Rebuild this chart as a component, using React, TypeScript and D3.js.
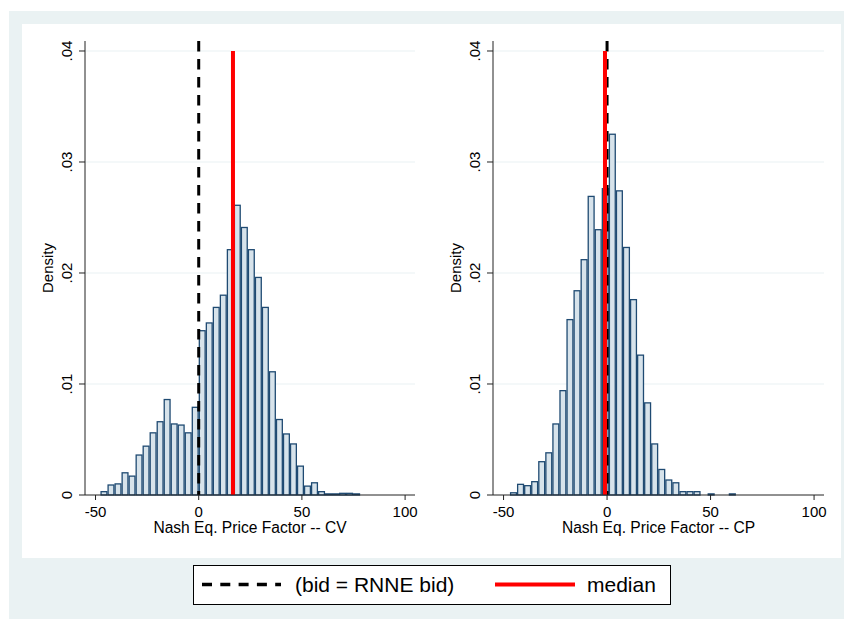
import React from "react";
import * as d3 from "d3";

// Histogram bins (lower edge of first bin, bin width) and densities
const cvBinStart = -47.6;
const cvBinWidth = 3.4;
const cvDensity = [
  0.0003, 0.0009, 0.001, 0.002, 0.0017, 0.0036, 0.0044, 0.0056, 0.0066, 0.0086,
  0.0064, 0.0063, 0.0056, 0.0079, 0.0148, 0.0155, 0.0169, 0.018, 0.0221, 0.0261,
  0.0241, 0.0221, 0.0196, 0.0169, 0.0111, 0.0068, 0.0055, 0.0046, 0.0026, 0.0008,
  0.0011, 0.0003, 0.0001, 0.0001, 0.00015, 0.00015, 0.0001,
];
const cpBinStart = -46.9;
const cpBinWidth = 3.41;
const cpDensity = [
  0.0002, 0.00096, 0.00084, 0.0012, 0.003, 0.0038, 0.0064, 0.0094, 0.0158, 0.0184,
  0.0212, 0.0269, 0.0239, 0.0276, 0.0325, 0.0274, 0.0223, 0.0176, 0.0126, 0.0083,
  0.0046, 0.0023, 0.00135, 0.0011, 0.0003, 0.0003, 0.0003, 0, 0.0001, 0, 0, 0.0001,
];
const cvMedian = 16.6;
const cpMedian = -1.0;
const rnneBid = 0;
const medianTop = 0.04;

const xTicks = [-50, 0, 50, 100];
const xTickLabels = ["-50", "0", "50", "100"];
const yTicks = [0, 0.01, 0.02, 0.03, 0.04];
const yTickLabels = ["0", ".01", ".02", ".03", ".04"];
const xTitles = ["Nash Eq. Price Factor -- CV", "Nash Eq. Price Factor -- CP"];
const yTitle = "Density";
const legendLabels = ["(bid = RNNE bid)", "median"];

const FONT = "'Liberation Sans', Arial, Helvetica, sans-serif";
const BG = "#eaf2f3";
const BAR_FILL = "#d7e3eb";
const BAR_STROKE = "#1f4a72";

type PanelProps = {
  x0: number;
  x1: number;
  binStart: number;
  binWidth: number;
  density: number[];
  median: number;
  title: string;
};

function Panel({ x0, x1, binStart, binWidth, density, median, title }: PanelProps) {
  const x = d3.scaleLinear().domain([-55.1, 104.8]).range([x0, x1]);
  const y = d3.scaleLinear().domain([0, 0.0409]).range([495, 41]);
  const [yBot, yTop] = y.range();
  const bins = density.map((d, i) => ({
    lo: binStart + i * binWidth,
    hi: binStart + (i + 1) * binWidth,
    d,
  }));
  return (
    <g>
      {yTicks.slice(1).map((t) => (
        <line key={"g" + t} x1={x0} x2={x1} y1={y(t)} y2={y(t)} stroke={BG} strokeWidth={1.2} />
      ))}
      {bins.map((b, i) =>
        b.d > 0 ? (
          <rect
            key={i}
            x={x(b.lo) + 0.6}
            y={y(b.d)}
            width={x(b.hi) - x(b.lo) - 1.2}
            height={yBot - y(b.d)}
            fill={BAR_FILL}
            stroke={BAR_STROKE}
            strokeWidth={1.3}
          />
        ) : null
      )}
      <line
        x1={x(rnneBid)}
        x2={x(rnneBid)}
        y1={yTop}
        y2={yBot}
        stroke="#000"
        strokeWidth={3}
        strokeDasharray="10.5,7.5"
      />
      <line x1={x(median)} x2={x(median)} y1={y(medianTop)} y2={yBot} stroke="#ff0000" strokeWidth={4} />
      {/* y axis */}
      <line x1={x0} x2={x0} y1={yTop} y2={yBot} stroke="#222" strokeWidth={1} />
      {yTicks.map((t, i) => (
        <g key={"yt" + t}>
          <line x1={x0 - 6} x2={x0} y1={y(t)} y2={y(t)} stroke="#222" strokeWidth={1} />
          <text
            transform={`translate(${x0 - 13},${y(t)}) rotate(-90)`}
            textAnchor="middle"
            fontFamily={FONT}
            fontSize={15}
            fill="#000"
          >
            {yTickLabels[i]}
          </text>
        </g>
      ))}
      <text
        transform={`translate(${x0 - 32},${(yTop + yBot) / 2}) rotate(-90)`}
        textAnchor="middle"
        fontFamily={FONT}
        fontSize={15}
        fill="#000"
      >
        {yTitle}
      </text>
      {/* x axis */}
      <line x1={x0} x2={x1} y1={yBot} y2={yBot} stroke="#222" strokeWidth={1} />
      {xTicks.map((t, i) => (
        <g key={"xt" + t}>
          <line x1={x(t)} x2={x(t)} y1={yBot} y2={yBot + 5} stroke="#222" strokeWidth={1} />
          <text x={x(t)} y={yBot + 22} textAnchor="middle" fontFamily={FONT} fontSize={15} fill="#000">
            {xTickLabels[i]}
          </text>
        </g>
      ))}
      <text x={(x0 + x1) / 2} y={yBot + 38} textAnchor="middle" fontFamily={FONT} fontSize={15.6} fill="#000">
        {title}
      </text>
    </g>
  );
}

export default function App() {
  return (
    <div style={{ position: "absolute", left: 0, top: 0 }}>
      <svg width={844} height={619} style={{ display: "block" }}>
        <rect x={0} y={0} width={844} height={619} fill="#fff" />
        <rect x={9} y={11} width={835} height={608} fill={BG} />
        <rect x={22} y={24} width={819} height={534} fill="#fff" />
        <Panel
          x0={85}
          x1={415}
          binStart={cvBinStart}
          binWidth={cvBinWidth}
          density={cvDensity}
          median={cvMedian}
          title={xTitles[0]}
        />
        <Panel
          x0={493}
          x1={824}
          binStart={cpBinStart}
          binWidth={cpBinWidth}
          density={cpDensity}
          median={cpMedian}
          title={xTitles[1]}
        />
        {/* legend */}
        <rect x={193.5} y={565.5} width={477} height={39} fill="#fff" stroke="#000" strokeWidth={1} />
        <line x1={202} x2={281} y1={584.5} y2={584.5} stroke="#000" strokeWidth={3.5} strokeDasharray="10,8.3" />
        <text x={295} y={592} fontFamily={FONT} fontSize={21} fill="#000">
          {legendLabels[0]}
        </text>
        <line x1={495} x2={575} y1={584.5} y2={584.5} stroke="#ff0000" strokeWidth={4} />
        <text x={587} y={592} fontFamily={FONT} fontSize={21} fill="#000">
          {legendLabels[1]}
        </text>
      </svg>
    </div>
  );
}
